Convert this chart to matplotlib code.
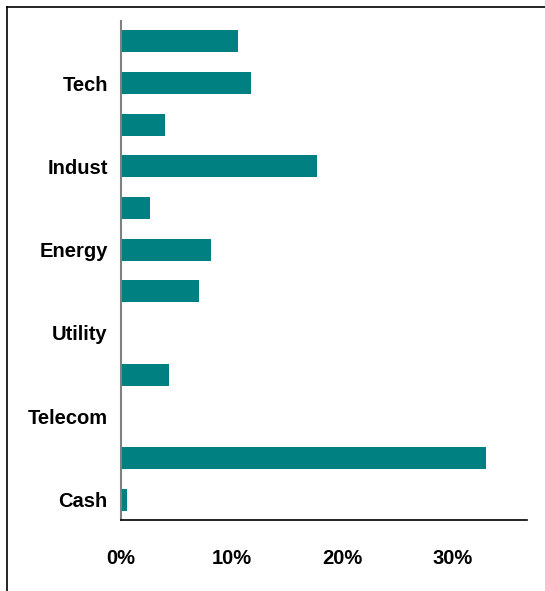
"""
Sector weights, horizontal bar chart
"""

import matplotlib
matplotlib.use("Agg")
import matplotlib.pyplot as plt
from matplotlib.lines import Line2D
from matplotlib.ticker import FuncFormatter

# bars from top to bottom, only every other one carries a label
sectors = ["", "Tech", "", "Indust", "", "Energy", "", "Utility", "", "Telecom", "", "Cash"]
weights = [10.6, 11.8, 4.0, 17.7, 2.6, 8.1, 7.1, 0.0, 4.3, 0.0, 33.0, 0.5]
xticks = [0, 10, 20, 30]

plt.rcParams['font.family'] = ['Liberation Sans', 'DejaVu Sans']

fig = plt.figure(figsize=(5.45, 5.91), dpi=100)
ax = fig.add_axes([0.222, 0.1193, 0.745, 0.846])

pos = list(range(len(sectors)))
ax.barh(pos, weights, height=0.53, color="#008080")

ax.set_ylim(11.5, -0.5)
ax.set_xlim(0, 36.74)
ax.set_yticks(pos)
ax.set_yticklabels(sectors)
ax.set_xticks(xticks)
ax.xaxis.set_major_formatter(FuncFormatter(lambda v, p: "%d%%" % v))

for lab in ax.get_yticklabels() + ax.get_xticklabels():
    lab.set_fontsize(14.5)
    lab.set_fontweight("bold")

ax.tick_params(axis="y", length=0, pad=9.5)
ax.tick_params(axis="x", length=0, pad=20.5)

ax.spines["top"].set_visible(False)
ax.spines["right"].set_visible(False)
ax.spines["left"].set_color("#808080")
ax.spines["left"].set_linewidth(1.5)
ax.spines["bottom"].set_color("black")
ax.spines["bottom"].set_linewidth(1.2)

# outer frame: top and left edges only
fig.add_artist(Line2D([7 / 545, 1], [1 - 7 / 591, 1 - 7 / 591], color="black", lw=1.2))
fig.add_artist(Line2D([7 / 545, 7 / 545], [0, 1 - 7 / 591], color="black", lw=1.2))

fig.savefig("out.png", dpi=100)
